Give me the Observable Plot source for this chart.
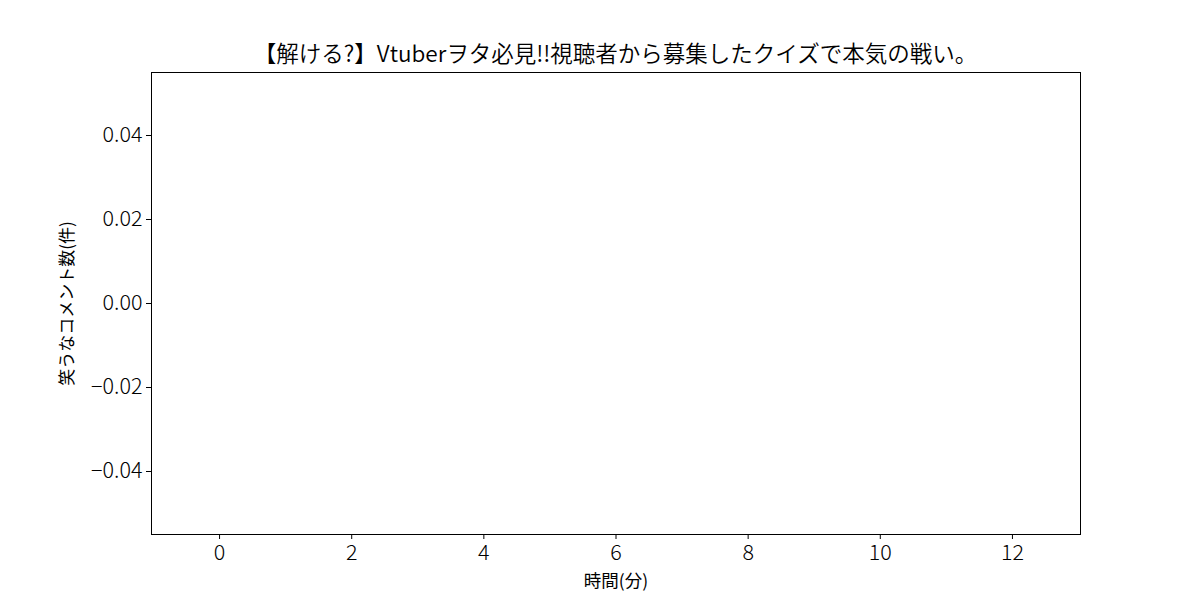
<!DOCTYPE html>
<html>
<head>
<meta charset="utf-8">
<script src="https://cdn.jsdelivr.net/npm/d3@7"></script>
<script src="https://cdn.jsdelivr.net/npm/@observablehq/plot@0.6"></script>
<style>
  html, body { margin: 0; padding: 0; background: #fff; }
  body { width: 1200px; height: 600px; overflow: hidden; font-family: "Noto Sans CJK JP", "Noto Sans", sans-serif; }
  #title { height: 64px; box-sizing: border-box; padding-top: 39px; line-height: 26px; font-size: 22.5px; font-weight: 350; text-align: center; color: #000; padding-left: 31px; white-space: nowrap; }
  #chart svg { display: block; }
  .ticklab text { font-weight: 300; }
  .axlab text { font-weight: 350; }
</style>
</head>
<body>
<div id="title">【解ける?】Vtuberヲタ必見!!視聴者から募集したクイズで本気の戦い。</div>
<div id="chart"></div>
<script>
// Data: the reference chart contains no plotted points
const minutes = [];
const laughCounts = [];
const xTicks = [0, 2, 4, 6, 8, 10, 12];
const yTicks = [-0.04, -0.02, 0.00, 0.02, 0.04];
const xLabel = "時間(分)";
const yLabel = "笑うなコメント数(件)";

const data = minutes.map((m, i) => ({minute: m, count: laughCounts[i]}));

const chart = Plot.plot({
  width: 1200,
  height: 536,
  marginLeft: 151,
  marginRight: 120,
  marginTop: 8,
  marginBottom: 66,
  style: {fontFamily: '"Noto Sans CJK JP", "Noto Sans", sans-serif', fontSize: "17px", color: "#000", background: "#fff"},
  x: {domain: [-1.03, 13.03]},
  y: {domain: [-0.055, 0.055]},
  marks: [
    Plot.line(data, {x: "minute", y: "count", stroke: "#1f77b4", strokeWidth: 1.5}),
    Plot.frame({stroke: "#000", strokeWidth: 1}),
    Plot.axisX({ticks: xTicks, tickSize: 5, tickPadding: 5, tickFormat: d3.format("d"), fontSize: 21.5,
      label: null, className: "ticklab"}),
    Plot.axisX({ticks: [], label: xLabel, labelAnchor: "center", labelArrow: "none", labelOffset: 52, fontSize: 17.5, className: "axlab"}),
    Plot.axisY({ticks: yTicks, tickSize: 5, tickPadding: 4, tickFormat: d3.format(".2f"), fontSize: 21.5,
      label: null, className: "ticklab"}),
    Plot.axisY({ticks: [], label: yLabel, labelAnchor: "center", labelArrow: "none", labelOffset: 91, fontSize: 17, className: "axlab"})
  ]
});
document.getElementById("chart").appendChild(chart);
</script>
</body>
</html>
